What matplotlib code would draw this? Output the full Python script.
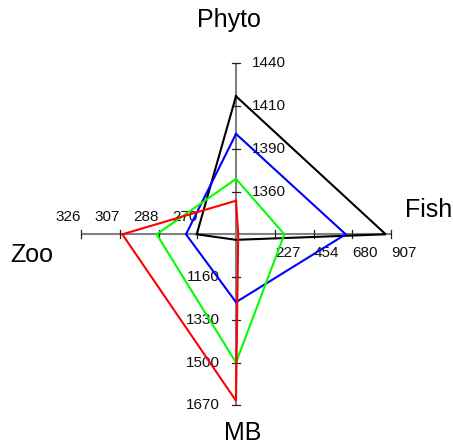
import matplotlib
matplotlib.use("Agg")
import matplotlib.pyplot as plt
import numpy as np

# ---- data ----
axis_names = ["Phyto", "Fish", "MB", "Zoo"]
axis_min = [1331, 0, 990, 251]
axis_max = [1440, 907, 1670, 326]
tick_labels = {
    "Phyto": ["1360", "1390", "1410", "1440"],
    "Fish": ["227", "454", "680", "907"],
    "MB": ["1160", "1330", "1500", "1670"],
    "Zoo": ["270", "288", "307", "326"],
}
series_colors = ["black", "#0000ff", "#00ff00", "#ff0000"]
black_vals = [1419, 876, 1012, 270]
blue_vals = [1395, 642, 1260, 275.2]
green_vals = [1366.3, 283, 1500, 289.4]
red_vals = [1352.4, 13, 1652, 306]
series = [black_vals, blue_vals, green_vals, red_vals]

# axis directions (up, right, down, left)
dirs = {"Phyto": (0, 1), "Fish": (1, 0), "MB": (0, -1), "Zoo": (-1, 0)}

W, H = 453, 446
fig = plt.figure(figsize=(W / 100, H / 100), dpi=100)
ax = fig.add_axes([0, 0, 1, 1])
cx, cy = 236, H - 234.3   # centre in pixels from bottom-left
sx, sy = 155.0, 171.0     # pixels per unit radius
ax.set_xlim(-cx / sx, (W - cx) / sx)
ax.set_ylim(-cy / sy, (H - cy) / sy)
ax.axis("off")

tick_font = dict(family=["Liberation Sans", "DejaVu Sans"], fontsize=11, color="#111111")

# axes lines + ticks
for name in axis_names:
    dx, dy = dirs[name]
    ax.plot([0, dx], [0, dy], color="#808080", lw=1.5, zorder=1, solid_capstyle="butt")
    for i, lab in enumerate(tick_labels[name]):
        f = (i + 1) / 4
        px, py = dx * f, dy * f
        if dx == 0:
            hl = 4 / sx
            ax.plot([px - hl, px + hl], [py, py], color="#222222", lw=0.9, zorder=1)
        else:
            hl = 4 / sy
            ax.plot([px, px], [py - hl, py + hl], color="#222222", lw=0.9, zorder=1)
        if name == "Phyto":
            ax.text(px + 15.5 / sx, py, lab, ha="left", va="center", **tick_font)
        elif name == "MB":
            ax.text(px - 16 / sx, py, lab, ha="right", va="center", **tick_font)
        elif name == "Zoo":
            ax.text(px, py + 10.5 / sy, lab, ha="right", va="bottom", **tick_font)
        else:
            ax.text(px, py - 12 / sy, lab, ha="left", va="top", **tick_font)

# series polygons
for vals, col in zip(series, series_colors):
    xs, ys = [], []
    for name, v, lo, hi in zip(axis_names, vals, axis_min, axis_max):
        f = (v - lo) / (hi - lo)
        dx, dy = dirs[name]
        xs.append(dx * f)
        ys.append(dy * f)
    xs.append(xs[0])
    ys.append(ys[0])
    ax.plot(xs, ys, color=col, lw=1.5, zorder=3, solid_joinstyle="miter")

title_font = dict(family=["Liberation Sans", "DejaVu Sans"], fontsize=18, color="black")
ax.text((229 - cx) / sx, (H - 26.7 - cy) / sy, "Phyto", ha="center", va="baseline", **title_font)
ax.text((405 - cx) / sx, (H - 216.7 - cy) / sy, "Fish", ha="left", va="baseline", **title_font)
ax.text((10 - cx) / sx, (H - 261.7 - cy) / sy, "Zoo", ha="left", va="baseline", **title_font)
ax.text((242.5 - cx) / sx, (H - 445.5 - cy) / sy, "MB", ha="center", va="bottom", **title_font)

fig.savefig("out.png", dpi=100)
